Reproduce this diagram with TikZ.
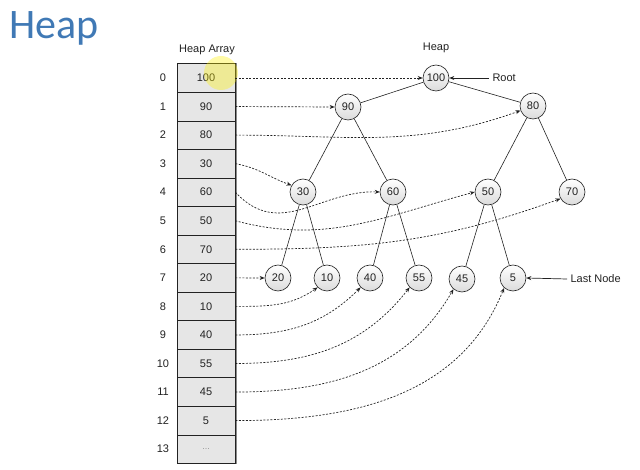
\documentclass[tikz,border=0pt]{standalone}
\usepackage{fontspec}
\setmainfont{Liberation Sans}
\newfontfamily\titlefont{Carlito}
\usetikzlibrary{arrows.meta}
\definecolor{heapblue}{HTML}{4079B5}
\definecolor{cellfill}{HTML}{E6E6E6}
\definecolor{lineink}{HTML}{222222}
\definecolor{shadowgray}{HTML}{8A8A8A}
\begin{document}
\begin{tikzpicture}[x=1pt, y=-1pt, font=\fontsize{11}{13}\selectfont, text=lineink,
    cell/.style={draw=lineink, fill=cellfill, minimum width=58pt, minimum height=28.55pt, inner sep=0pt, line width=0.6pt},
    heapnode/.style={circle, draw=lineink, top color=white, bottom color=gray!28, minimum size=26pt, inner sep=0pt, line width=0.6pt},
    edge/.style={draw=lineink, line width=0.6pt},
    link/.style={draw=lineink, line width=0.7pt, dash pattern=on 2pt off 1.5pt, -{Stealth[length=5pt, width=4pt]}},
    pointer/.style={draw=lineink, line width=0.7pt, -{Stealth[length=5pt, width=4pt]}},
  ]
  \useasboundingbox (0, 0) rectangle (640, 470);

  % title
  \node[font=\titlefont\fontsize{42}{46}\selectfont, text=heapblue, anchor=west] (title) at (6, 28) {Heap};

  % heap array
  \node (arrlabel) at (207, 50) {Heap Array};
  \foreach \i/\val in {0/100, 1/90, 2/80, 3/30, 4/60, 5/50, 6/70, 7/20, 8/10, 9/40, 10/55, 11/45, 12/5} {
    \node[cell] (c\i) at (206, 78 + 28.55*\i) {\val};
    \node (idx\i) at (163, 78 + 28.55*\i) {\i};
  }
  \node[cell, text=gray, font=\fontsize{8}{10}\selectfont] (c13) at (206, 78 + 28.55*13) {\dots};
  \node (idx13) at (163, 78 + 28.55*13) {13};
  \draw[shadowgray, line width=1.4pt] (c0.north east) ++(1, 0) -- ([xshift=1pt]c13.south east);
  % cursor highlight
  \fill[yellow, opacity=0.35] (221, 73) circle (17);

  % heap tree
  \node (treelabel) at (436, 48) {Heap};
  \node[heapnode] (n100) at (436, 78) {100};
  \node[heapnode] (n90) at (348, 107) {90};
  \node[heapnode] (n80) at (533, 106) {80};
  \node[heapnode] (n30) at (303, 192) {30};
  \node[heapnode] (n60) at (393, 192) {60};
  \node[heapnode] (n50) at (488, 192) {50};
  \node[heapnode] (n70) at (572, 192) {70};
  \node[heapnode] (n20) at (278, 278) {20};
  \node[heapnode] (n10) at (327, 278) {10};
  \node[heapnode] (n40) at (370, 278) {40};
  \node[heapnode] (n55) at (419, 278) {55};
  \node[heapnode] (n45) at (462, 279) {45};
  \node[heapnode] (n5) at (513, 278) {5};
  \foreach \a/\b in {n100/n90, n100/n80, n90/n30, n90/n60, n80/n50, n80/n70,
                     n30/n20, n30/n10, n60/n40, n60/n55, n50/n45, n50/n5}
    \draw[edge] (\a) -- (\b);

  % labels for root and last node
  \node[anchor=west] (rootlabel) at (489, 78) {Root};
  \draw[pointer] (rootlabel.west) -- (n100.east);
  \node[anchor=west] (lastlabel) at (567, 279) {Last Node};
  \draw[pointer] (lastlabel.west) -- (n5.east);

  % array slots to tree nodes
  \draw[link] (c0.east) -- (n100.west);
  \draw[link] (c1.east) -- (n90.west);
  \draw[link] (c2.east) to[out=0, in=200] (n80.200);
  \draw[link] (c3.east) to[out=-10, in=160] (n30.150);
  \draw[link] (c4.east) .. controls (280, 240) and (320, 190) .. (n60.west);
  \draw[link] (c5.east) to[out=-15, in=195] (n50.west);
  \draw[link] (c6.east) to[out=0, in=200] (n70.210);
  \draw[link] (c7.east) -- (n20.west);
  \draw[link] (c8.east) to[out=0, in=215] (n10.225);
  \draw[link] (c9.east) to[out=0, in=225] (n40.225);
  \draw[link] (c10.east) to[out=0, in=232] (n55.225);
  \draw[link] (c11.east) to[out=0, in=240] (n45.230);
  \draw[link] (c12.east) to[out=0, in=248] (n5.228);
\end{tikzpicture}
\end{document}
